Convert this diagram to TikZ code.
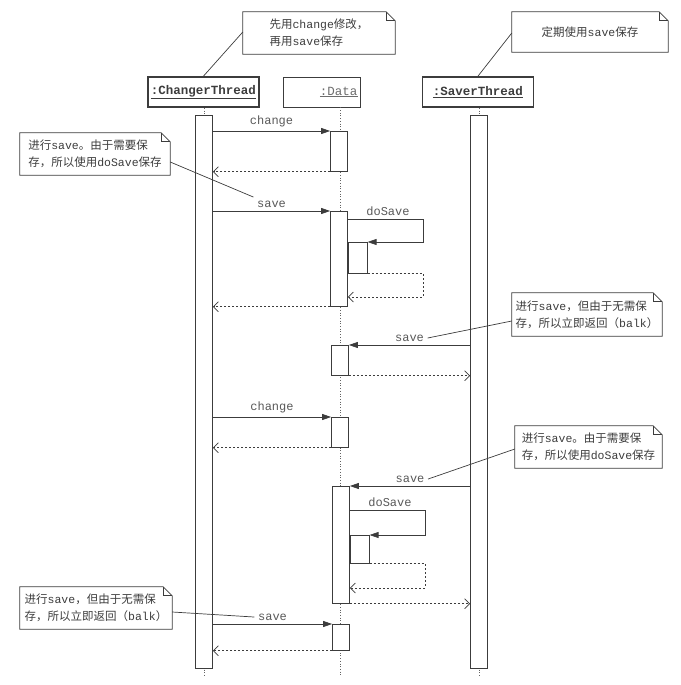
\documentclass[tikz,border=0pt]{standalone}
\usepackage{fontspec}
\setmainfont{Noto Sans CJK SC}
\setmonofont{Liberation Mono}
\usetikzlibrary{arrows.meta, positioning}
\definecolor{ink}{RGB}{60,60,60}

\begin{document}
\begin{tikzpicture}[x=1pt, y=-1pt,
    % object boxes on top
    obj/.style={draw=ink, line width=0.7pt, minimum height=30pt, inner xsep=3pt,
        font=\fontsize{12.5}{14}\ttfamily, text=ink!75},
    thread/.style={obj, line width=1.8pt, text=ink, font=\fontsize{12.5}{14}\ttfamily\bfseries},
    % activation bars
    actbar/.style={draw=ink, fill=white, line width=0.7pt, minimum width=17pt, anchor=north, inner sep=0pt},
    lifeline/.style={draw=ink!80, dotted, line width=0.7pt},
    % messages
    call/.style={draw=ink, line width=0.7pt, -{Triangle[length=9pt, width=6pt]}},
    ret/.style={draw=ink, dash pattern=on 2pt off 2pt, line width=0.7pt, -{Straight Barb[length=5pt, width=10pt]}},
    msg/.style={font=\fontsize{12}{14}\ttfamily, text=ink!85},
    % notes
    note/.style={align=left, font=\fontsize{11.5}{17}\selectfont, text=ink, minimum height=42pt, inner sep=0pt},
    pin/.style={draw=ink, line width=0.7pt}
]
\useasboundingbox (0,0) rectangle (680,685);

% Objects
\node[thread] (changer) at (203.5,92) {\underline{:ChangerThread}};
\node[obj, text width=71pt, align=right] (data) at (322,92) {\underline{:Data}};
\node[thread, minimum width=111pt] (saver) at (478,92) {\underline{:SaverThread}};

% Lifelines
\coordinate (cl) at (204,675);
\coordinate (dl) at (340,675);
\coordinate (sl) at (479,675);
\draw[lifeline] (changer.south -| cl) -- (cl);
\draw[lifeline] (data.south -| dl) -- (dl);
\draw[lifeline] (saver.south -| sl) -- (sl);

% Thread bars
\node[actbar, minimum height=553pt] (cbar) at (204,115) {};
\node[actbar, minimum height=553pt] (sbar) at (479,115) {};

% Data bars
\node[actbar, minimum height=40pt] (d1) at (339,131) {};
\node[actbar, minimum height=95pt] (d2) at (339,211) {};
\node[actbar, minimum height=31pt, minimum width=19pt, anchor=north west] (d2n) at (d2.east |- 0,242) {};
\node[actbar, minimum height=30pt] (d3) at (340,345) {};
\node[actbar, minimum height=30pt] (d4) at (340,417) {};
\node[actbar, minimum height=117pt] (d5) at (341,486) {};
\node[actbar, minimum height=28pt, minimum width=19pt, anchor=north west] (d5n) at (d5.east |- 0,535) {};
\node[actbar, minimum height=26pt] (d6) at (341,624) {};

% Messages
\draw[call] (cbar.east |- d1.north) -- (d1.north west) node[msg, midway, above] {change};
\draw[ret] (d1.south west) -- (cbar.east |- d1.south);

\draw[call] (cbar.east |- d2.north) -- (d2.north west) node[msg, midway, above] (lsave1) {save};
\coordinate (r1) at (423,219);
\draw[call] (d2.east |- r1) -- (r1) -- (r1 |- d2n.north) -- (d2n.north east);
\node[msg, above right=0pt and 15pt of d2.east |- r1] {doSave};
\draw[ret] (d2n.south east) -- (r1 |- d2n.south) -- (r1 |- 0,297) -- (d2.east |- 0,297);
\draw[ret] (d2.south west) -- (cbar.east |- d2.south);

\draw[call] (sbar.west |- d3.north) -- (d3.north east) node[msg, midway, above] (lsave2) {save};
\draw[ret] (d3.south east) -- (sbar.west |- d3.south);

\draw[call] (cbar.east |- d4.north) -- (d4.north west) node[msg, midway, above] {change};
\draw[ret] (d4.south west) -- (cbar.east |- d4.south);

\draw[call] (sbar.west |- d5.north) -- (d5.north east) node[msg, midway, above] (lsave3) {save};
\coordinate (r2) at (425,510);
\draw[call] (d5.east |- r2) -- (r2) -- (r2 |- d5n.north) -- (d5n.north east);
\node[msg, above right=0pt and 15pt of d5.east |- r2] {doSave};
\draw[ret] (d5n.south east) -- (r2 |- d5n.south) -- (r2 |- 0,588) -- (d5.east |- 0,588);
\draw[ret] (d5.south east) -- (sbar.west |- d5.south);

\draw[call] (cbar.east |- d6.north) -- (d6.north west) node[msg, midway, above] (lsave4) {save};
\draw[ret] (d6.south west) -- (cbar.east |- d6.south);

% Notes
\node[note, minimum width=152pt] (na) at (319,33) {先用\texttt{change}修改，\\再用\texttt{save}保存};
\node[note, minimum width=156pt, minimum height=40pt] (nb) at (590,32) {定期使用\texttt{save}保存};
\node[note, minimum width=150pt] (nc) at (95,154) {进行\texttt{save}。由于需要保\\存，所以使用\texttt{doSave}保存};
\node[note, minimum width=150pt, minimum height=43pt] (nd) at (587,314.5) {进行\texttt{save}，但由于无需保\\存，所以立即返回（\texttt{balk}）};
\node[note, minimum width=147pt] (ne) at (588.5,447) {进行\texttt{save}。由于需要保\\存，所以使用\texttt{doSave}保存};
\node[note, minimum width=152pt] (nf) at (96,608) {进行\texttt{save}，但由于无需保\\存，所以立即返回（\texttt{balk}）};

\foreach \n in {na,nb,nc,nd,ne,nf} {
  \draw[pin] (\n.north west) -- ([xshift=-9pt]\n.north east) -- ([yshift=-9pt]\n.north east)
    -- (\n.south east) -- (\n.south west) -- cycle;
  \draw[pin] ([xshift=-9pt]\n.north east) -- ([xshift=-9pt, yshift=-9pt]\n.north east) -- ([yshift=-9pt]\n.north east);
}

% Note pins
\draw[pin] (na.west |- 0,32) -- (changer.north);
\draw[pin] (nb.west |- 0,33) -- (saver.north);
\draw[pin] (nc.east |- 0,162) -- (lsave1.north west);
\draw[pin] (nd.west |- 0,321) -- (lsave2.east);
\draw[pin] (ne.west |- 0,449) -- (lsave3.east);
\draw[pin] (nf.east |- 0,612) -- (lsave4.west);

\end{tikzpicture}
\end{document}
